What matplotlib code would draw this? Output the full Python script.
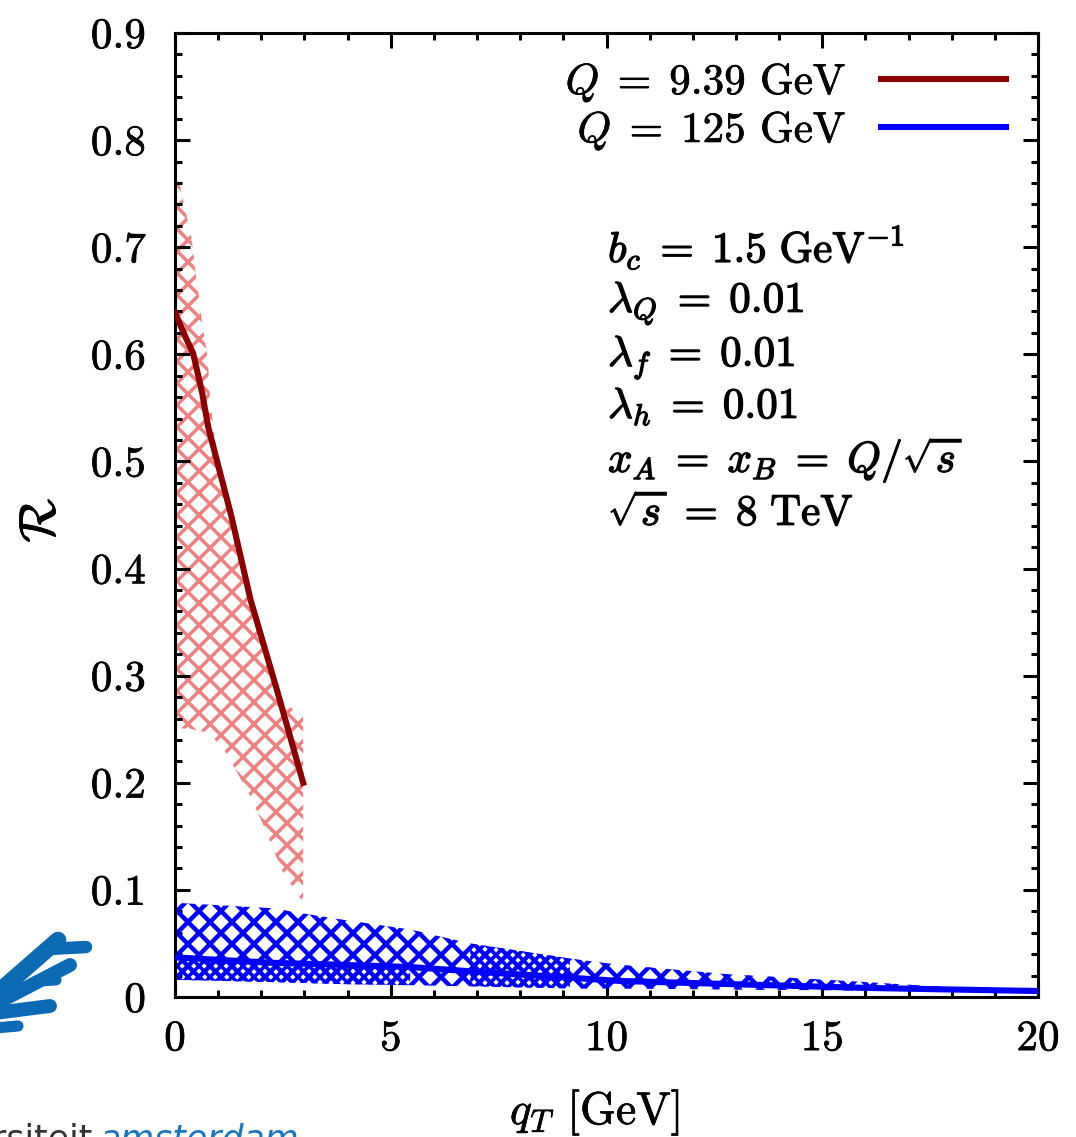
import numpy as np
import matplotlib
matplotlib.use("Agg")
import matplotlib.pyplot as plt
from matplotlib.patches import Polygon
from matplotlib.collections import LineCollection
from matplotlib.lines import Line2D
from matplotlib.ticker import MultipleLocator, FuncFormatter
import matplotlib.patheffects as pe

plt.rcParams['mathtext.fontset'] = 'cm'
plt.rcParams['font.family'] = ['cmr10', 'DejaVu Serif']
plt.rcParams['axes.formatter.use_mathtext'] = True

# Q = 9.39 GeV: band and central curve
qt_low = [0.0, 0.1, 0.39, 0.5, 0.62, 0.76, 0.81, 0.93, 1.2, 1.71, 2.1, 2.48, 2.97]
low_hi = [0.775, 0.76, 0.707, 0.669, 0.632, 0.595, 0.557, 0.52, 0.465, 0.371, 0.32, 0.277, 0.261]
low_lo = [0.252, 0.251, 0.250, 0.249, 0.248, 0.247, 0.246, 0.240, 0.227, 0.190, 0.156, 0.118, 0.088]
qt_low_line = [0.0, 0.2, 0.42, 0.63, 0.77, 0.97, 1.3, 1.75, 2.36, 2.97]
low_line = [0.639, 0.62, 0.601, 0.564, 0.532, 0.501, 0.45, 0.371, 0.287, 0.20]

# Q = 125 GeV: band and central curve
qt_high = [0.0, 2.2, 3.9, 5.45, 6.84, 9.15, 10.3, 12.9, 16.0, 18.0, 20.0]
high_hi = [0.088, 0.083, 0.072, 0.063, 0.050, 0.036, 0.030, 0.021, 0.014, 0.009, 0.006]
high_lo = [0.016, 0.014, 0.012, 0.011, 0.010, 0.008, 0.008, 0.007, 0.006, 0.0055, 0.005]
high_line = [0.037, 0.032, 0.030, 0.028, 0.024, 0.018, 0.015, 0.012, 0.0085, 0.007, 0.0056]

# denser (overlapping) parts of the 125 GeV band
qt_dense1 = [0.0, 2.2, 3.9, 5.45]
dense1_hi = [0.036, 0.032, 0.030, 0.028]
dense1_lo = [0.016, 0.014, 0.012, 0.011]
qt_dense2 = [6.84, 8.0, 9.15]
dense2_hi = [0.050, 0.043, 0.036]
dense2_lo = [0.010, 0.009, 0.008]

labels = [r'$Q\;=\;9.39$ GeV', r'$Q\;=\;125$ GeV']
params = [r'$b_c\;=\;1.5\ \mathrm{GeV}^{-1}$',
          r'$\lambda_Q\;=\;0.01$',
          r'$\lambda_f\;=\;0.01$',
          r'$\lambda_h\;=\;0.01$',
          r'$x_A\;=\;x_B\;=\;Q/\sqrt{s}$',
          r'$\sqrt{s}\;=\;8\ \mathrm{TeV}$']

W, H = 1076, 1137
fig = plt.figure(figsize=(W / 100, H / 100), dpi=100)
ax = fig.add_axes([175 / W, 140 / H, 863 / W, 964 / H])
ax.set_xlim(0, 20)
ax.set_ylim(0, 0.9)


def hatch_band(x, lo, hi, color, lw, step=22.0, phase=0.0, z=1):
    x = np.asarray(x)
    verts = np.column_stack([np.r_[x, x[::-1]], np.r_[lo, hi[::-1]]])
    clip = Polygon(verts, closed=True, facecolor='none', edgecolor='none',
                   transform=ax.transData)
    ax.add_patch(clip)
    bb = ax.get_position()
    pw, ph = bb.width * W, bb.height * H
    x0, x1 = ax.get_xlim()
    y0, y1 = ax.get_ylim()
    sx = (x1 - x0) / pw
    segs = []
    for k in np.arange(-ph / step - 2, pw / step + 2):
        a = (k + phase) * step
        segs.append([(x0 + a * sx, y0), (x0 + (a + ph) * sx, y1)])
    for k in np.arange(-1, (pw + ph) / step + 2):
        a = (k + phase) * step
        segs.append([(x0 + a * sx, y0), (x0 + (a - ph) * sx, y1)])
    lc = LineCollection(segs, colors=color, linewidths=lw, zorder=z)
    ax.add_collection(lc)
    lc.set_clip_path(clip)


hatch_band(qt_low, low_lo, low_hi, '#f08080', 2.5, z=1)
hatch_band(qt_high, high_lo, high_hi, '#0000ff', 3.2, z=2)
hatch_band(qt_dense1, dense1_lo, dense1_hi, '#0000ff', 2.6, phase=0.5, z=2)
hatch_band(qt_dense2, dense2_lo, dense2_hi, '#0000ff', 2.6, phase=0.5, z=2)

l1, = ax.plot(qt_low_line, low_line, color='#8b0000', lw=4.4, zorder=4)
l2, = ax.plot(qt_high, high_line, color='#0000ff', lw=4.4, zorder=4)

bold = [pe.withStroke(linewidth=0.9, foreground='black')]
light = [pe.withStroke(linewidth=0.5, foreground='black')]

leg = ax.legend([l1, l2], labels, loc='upper right', bbox_to_anchor=(0.995, 1.0),
                frameon=False, markerfirst=False, fontsize=31,
                handlelength=2.9, handletextpad=0.8, labelspacing=0.12,
                borderaxespad=0.25)
for t in leg.get_texts():
    t.set_path_effects(light)

ys = [262, 312, 366, 418, 472, 525]
for s, py in zip(params, ys):
    ax.text((608 - 175) / 863, (997 - py) / 964, s, transform=ax.transAxes,
            fontsize=31, va='baseline', ha='left', path_effects=bold)

# axes styling, gnuplot-like
for sp in ax.spines.values():
    sp.set_linewidth(2.2)
ax.xaxis.set_major_locator(MultipleLocator(5))
ax.xaxis.set_minor_locator(MultipleLocator(1))
ax.yaxis.set_major_locator(MultipleLocator(0.1))
ax.yaxis.set_minor_locator(MultipleLocator(0.02))
ax.xaxis.set_major_formatter(FuncFormatter(lambda v, _: f'{v:.0f}'))
ax.yaxis.set_major_formatter(FuncFormatter(lambda v, _: '0' if abs(v) < 1e-9 else f'{v:.1f}'))
ax.tick_params(which='both', direction='in', top=True, right=True, width=2.2, labelsize=31)
ax.tick_params(which='major', length=10.8)
ax.tick_params(which='minor', length=5)
ax.tick_params(axis='y', pad=21)
ax.tick_params(axis='x', pad=17)
for t in ax.get_xticklabels() + ax.get_yticklabels():
    t.set_path_effects(light)

fig.text(42 / W, (H - 520) / H, r'$\mathcal{R}$', rotation=90, fontsize=37,
         ha='center', va='center', path_effects=light)
fig.text(595 / W, (H - 1124) / H, r'$q_T$ [GeV]', fontsize=33,
         ha='center', va='baseline', path_effects=light)

# partial university logo at lower left (brush strokes)
strokes = [((-5, 995), (58, 940), 12), ((48, 949), (86, 947), 9),
           ((-5, 1004), (70, 965), 10), ((36, 981), (56, 980), 8),
           ((-5, 1013), (50, 1006), 10), ((-5, 1028), (18, 1026), 8)]
for (xa, ya), (xb, yb), w in strokes:
    fig.add_artist(Line2D([xa / W, xb / W], [(H - ya) / H, (H - yb) / H],
                          transform=fig.transFigure, color='#0a6ab4', lw=w,
                          solid_capstyle='round'))
fig.text(92 / W, (H - 1150) / H, 'Universiteit', fontsize=25, color='#333333',
         family='DejaVu Sans', ha='right', va='baseline')
fig.text(100 / W, (H - 1150) / H, 'amsterdam', fontsize=25, color='#1a75c0',
         family='DejaVu Sans', style='italic', ha='left', va='baseline')

fig.savefig('out.png', dpi=100)
